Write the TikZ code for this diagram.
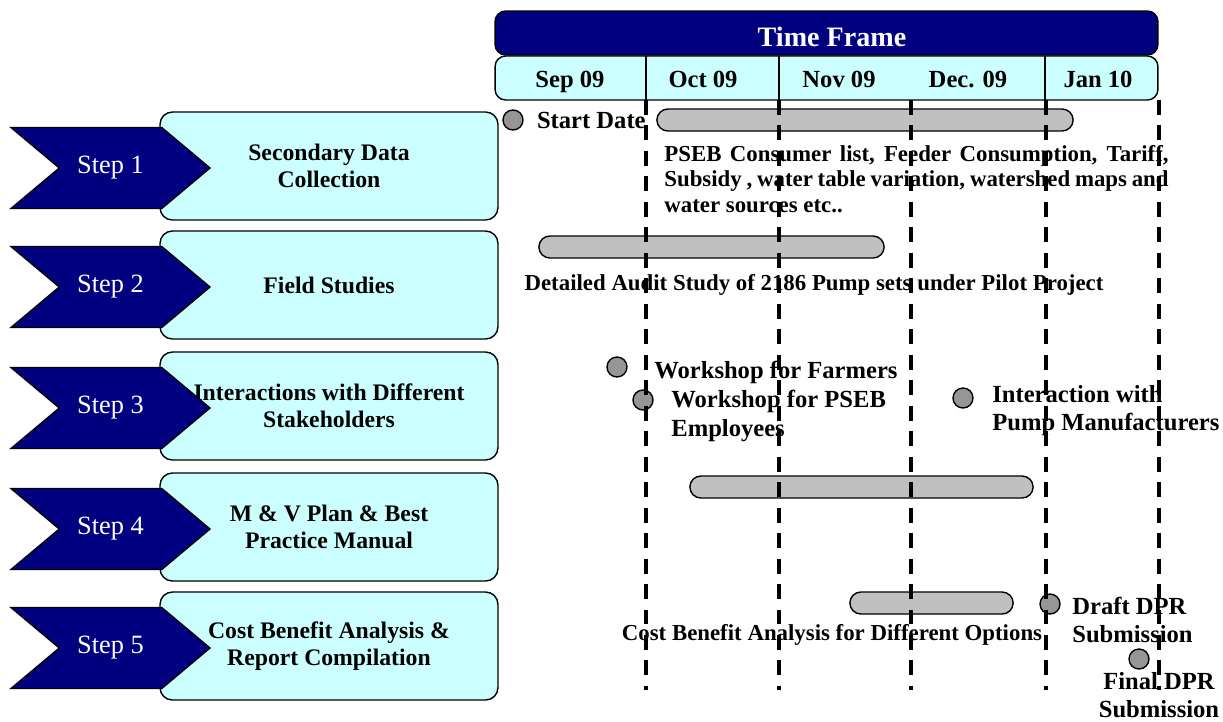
\documentclass[tikz,border=0pt]{standalone}
\usepackage{fontspec}
\setmainfont{Liberation Serif}
\usetikzlibrary{positioning,shapes.symbols,shapes.misc}
\definecolor{tfnavy}{HTML}{000080}
\definecolor{tfcyan}{HTML}{CCFFFF}
\definecolor{tfbar}{HTML}{C0C0C0}
\definecolor{tfdot}{HTML}{969696}

\begin{document}
\begin{tikzpicture}[x=0.02cm, y=-0.02cm, every node/.style={font=\fontsize{14}{16}\selectfont\bfseries},
    stepbox/.style={rectangle, draw, fill=tfcyan, rounded corners=7pt, minimum width=6.76cm, minimum height=2.16cm, line width=0.8pt, align=center, font=\fontsize{13.5}{15.5}\selectfont\bfseries},
    stepchev/.style={signal, signal from=west, signal to=east, signal pointer angle=80, draw, fill=tfnavy, text=white, minimum width=3.98cm, minimum height=1.62cm, line width=0.8pt, font=\fontsize{15}{17}\selectfont},
    ganttbar/.style={rounded rectangle, draw, fill=tfbar, minimum height=0.44cm, line width=0.8pt},
    milestone/.style={circle, draw, fill=tfdot, minimum size=0.4cm, inner sep=0pt, line width=0.8pt},
    longlbl/.style={inner sep=0pt, font=\fontsize{13}{14.5}\selectfont\bfseries},
    gridline/.style={dash pattern=on 8.5pt off 6pt, line width=2.1pt}]
    \useasboundingbox (0,0) rectangle (1223,721);

    % Time frame header
    \node[rectangle, draw, fill=tfnavy, rounded corners=6pt, minimum width=13.26cm, minimum height=0.88cm, line width=0.8pt] (tframe) at (826.5,33) {};
    \node[text=white, font=\fontsize{16}{18}\selectfont\bfseries] (tframetxt) at (832,37) {Time Frame};
    \node[rectangle, draw, fill=tfcyan, rounded corners=6pt, minimum width=13.26cm, minimum height=0.88cm, line width=0.8pt] (months) at (826.5,78) {};
    \draw[line width=0.8pt] (646,56) -- (646,100);
    \draw[line width=0.8pt] (779,56) -- (779,100);
    \draw[line width=0.8pt] (1045,56) -- (1045,100);
    \node[anchor=base] (sep) at (570,87) {Sep 09};
    \node[anchor=base] (oct) at (703,87) {Oct 09};
    \node[anchor=base] (nov) at (839,87) {Nov 09};
    \node[anchor=base] (dec) at (968,87) {Dec. 09};
    \node[anchor=base] (jan) at (1098,87) {Jan 10};

    % Steps
    \node[stepbox] (box1) at (329,166) {Secondary Data\\Collection};
    \node[stepchev] (step1) at (110.5,168) {Step 1};
    \node[stepbox] (box2) at (329,285) {Field Studies};
    \node[stepchev] (step2) at (110.5,287) {Step 2};
    \node[stepbox] (box3) at (329,406) {Interactions with Different\\Stakeholders};
    \node[stepchev] (step3) at (110.5,408) {Step 3};
    \node[stepbox] (box4) at (329,527) {M \& V Plan \& Best\\Practice Manual};
    \node[stepchev] (step4) at (110.5,529) {Step 4};
    \node[stepbox] (box5) at (329,646) {Cost Benefit Analysis \&\\Report Compilation};
    \node[stepchev] (step5) at (110.5,648) {Step 5};

    % Step 1 activities
    \node[milestone] (start) at (513,120) {};
    \node[right=0.26cm of start, inner sep=0pt] (startlbl) {Start Date};
    \node[ganttbar, minimum width=8.56cm] (bar1) at (865,120) {};
    \node[longlbl, anchor=west, text width=287pt, align=justify] (bar1lbl) at (664,179) {PSEB Consumer list, Feeder Consumption, Tariff,\linebreak Subsidy , water table variation, watershed maps and\linebreak water sources etc..};

    % Step 2 activities
    \node[ganttbar, minimum width=7.14cm] (bar2) at (711.5,247) {};
    \node[longlbl] (bar2lbl) at (814,285) {Detailed Audit Study of 2186 Pump sets under Pilot Project};

    % Step 3 activities
    \node[milestone] (farmers) at (617,367) {};
    \node[anchor=west, inner sep=0pt] (farmerslbl) at (654,372) {Workshop for Farmers};
    \node[milestone] (employees) at (643,400) {};
    \node[anchor=west, inner sep=0pt, align=left] (employeeslbl) at (671,416) {Workshop for PSEB\\Employees};
    \node[milestone] (makers) at (963,398) {};
    \node[anchor=west, inner sep=0pt, align=left] (makerslbl) at (992,411) {Interaction with\\Pump Manufacturers};

    % Step 4 activities
    \node[ganttbar, minimum width=7.1cm] (bar4) at (861.5,487) {};

    % Step 5 activities
    \node[ganttbar, minimum width=3.5cm] (bar5) at (931.5,603) {};
    \node[longlbl] (bar5lbl) at (832,635) {Cost Benefit Analysis for Different Options};
    \node[milestone] (draft) at (1050,604) {};
    \node[anchor=west, inner sep=0pt, align=left] (draftlbl) at (1072,620) {Draft DPR\\Submission};
    \node[milestone] (final) at (1139,659) {};
    \node[inner sep=0pt, align=center] (finallbl) at (1159,695) {Final DPR\\Submission};

    % Month grid lines
    \draw[gridline] (646,100) -- (646,690);
    \draw[gridline] (779,100) -- (779,690);
    \draw[gridline] (911,100) -- (911,690);
    \draw[gridline] (1046,100) -- (1046,690);
    \draw[gridline] (1159,100) -- (1159,690);
\end{tikzpicture}
\end{document}
